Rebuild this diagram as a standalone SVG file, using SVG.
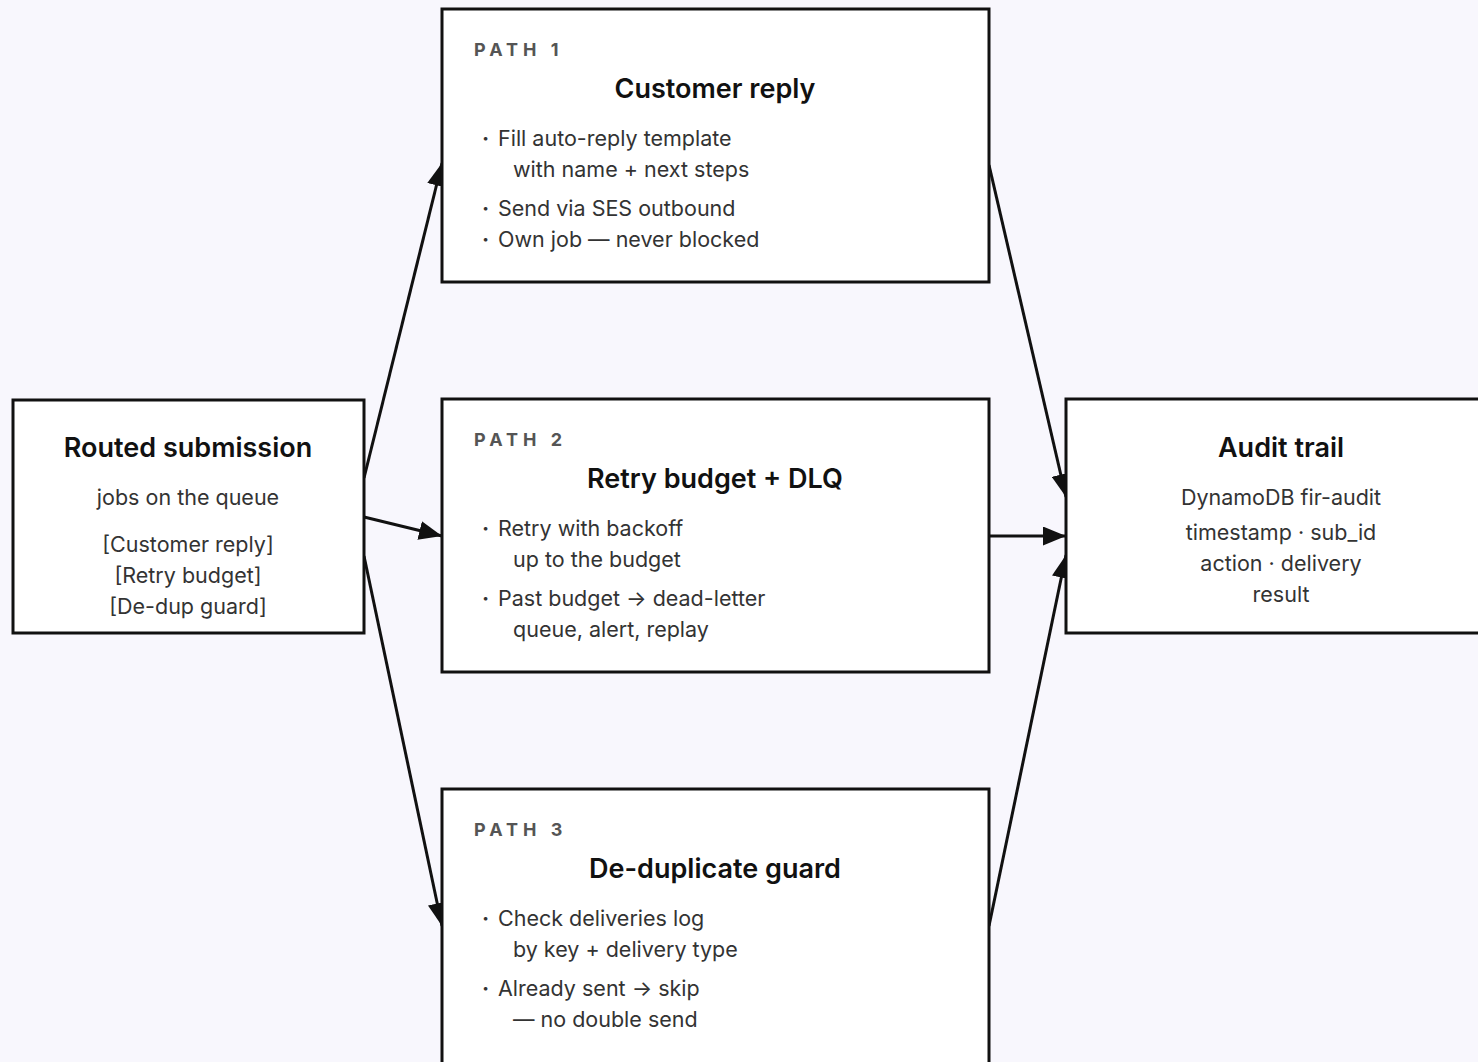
<svg xmlns="http://www.w3.org/2000/svg" width="1478" height="1062" viewBox="0 0 1478 1062">
<style>
.box{fill:#ffffff;stroke:#111111;stroke-width:3}
.lbl{font-family:Inter,"Noto Sans",sans-serif;font-size:18px;font-weight:700;fill:#555555;letter-spacing:5px}
.ttl{font-family:Inter,"Noto Sans",sans-serif;font-size:27px;font-weight:600;fill:#111111;text-anchor:middle}
.txt{font-family:Inter,"Noto Sans",sans-serif;font-size:21.5px;fill:#333333}
.bul{font-family:Inter,"Noto Sans",sans-serif;font-size:21.5px;font-weight:700;fill:#333333}
.ctr{text-anchor:middle}
.edge{stroke:#111111;stroke-width:3;fill:none}
</style>
<defs>
<marker id="ah" viewBox="0 0 23 19" refX="23" refY="9.5" markerWidth="23" markerHeight="19" markerUnits="userSpaceOnUse" orient="auto">
<path d="M0,0 L23,9.5 L0,19 Z" fill="#111111"/>
</marker>
</defs>
<rect x="0" y="0" width="1478" height="1062" fill="#f8f7fd"/>
<g id="connectors">
<line class="edge" x1="364" y1="478" x2="442" y2="163" marker-end="url(#ah)"/>
<line class="edge" x1="364" y1="517" x2="442" y2="536" marker-end="url(#ah)"/>
<line class="edge" x1="364" y1="556" x2="442" y2="926" marker-end="url(#ah)"/>
<line class="edge" x1="989" y1="165" x2="1066" y2="497" marker-end="url(#ah)"/>
<line class="edge" x1="989" y1="536" x2="1066" y2="536" marker-end="url(#ah)"/>
<line class="edge" x1="989" y1="926" x2="1066" y2="555" marker-end="url(#ah)"/>
</g>
<g id="routed">
<rect class="box" x="13" y="400" width="351" height="233"/>
<text class="ttl" x="188" y="457">Routed submission</text>
<text class="txt ctr" x="188" y="505">jobs on the queue</text>
<text class="txt ctr" x="188" y="552">[Customer reply]</text>
<text class="txt ctr" x="188" y="583">[Retry budget]</text>
<text class="txt ctr" x="188" y="614">[De-dup guard]</text>
</g>
<g id="path1">
<rect class="box" x="442" y="9" width="547" height="273"/>
<text class="lbl" x="474" y="56">PATH 1</text>
<text class="ttl" x="715" y="98">Customer reply</text>
<text class="bul" x="482" y="146">·</text><text class="txt" x="498" y="146">Fill auto-reply template</text>
<text class="txt" x="513" y="177">with name + next steps</text>
<text class="bul" x="482" y="216">·</text><text class="txt" x="498" y="216">Send via SES outbound</text>
<text class="bul" x="482" y="247">·</text><text class="txt" x="498" y="247">Own job — never blocked</text>
</g>
<g id="path2">
<rect class="box" x="442" y="399" width="547" height="273"/>
<text class="lbl" x="474" y="446">PATH 2</text>
<text class="ttl" x="715" y="488">Retry budget + DLQ</text>
<text class="bul" x="482" y="536">·</text><text class="txt" x="498" y="536">Retry with backoff</text>
<text class="txt" x="513" y="567">up to the budget</text>
<text class="bul" x="482" y="606">·</text><text class="txt" x="498" y="606">Past budget → dead-letter</text>
<text class="txt" x="513" y="637">queue, alert, replay</text>
</g>
<g id="path3">
<rect class="box" x="442" y="789" width="547" height="290"/>
<text class="lbl" x="474" y="836">PATH 3</text>
<text class="ttl" x="715" y="878">De-duplicate guard</text>
<text class="bul" x="482" y="926">·</text><text class="txt" x="498" y="926">Check deliveries log</text>
<text class="txt" x="513" y="957">by key + delivery type</text>
<text class="bul" x="482" y="996">·</text><text class="txt" x="498" y="996">Already sent → skip</text>
<text class="txt" x="513" y="1027">— no double send</text>
</g>
<g id="audit">
<rect class="box" x="1066" y="399" width="430" height="234"/>
<text class="ttl" x="1281" y="457">Audit trail</text>
<text class="txt ctr" x="1281" y="505">DynamoDB fir-audit</text>
<text class="txt ctr" x="1281" y="540">timestamp · sub_id</text>
<text class="txt ctr" x="1281" y="571">action · delivery</text>
<text class="txt ctr" x="1281" y="602">result</text>
</g>
</svg>
